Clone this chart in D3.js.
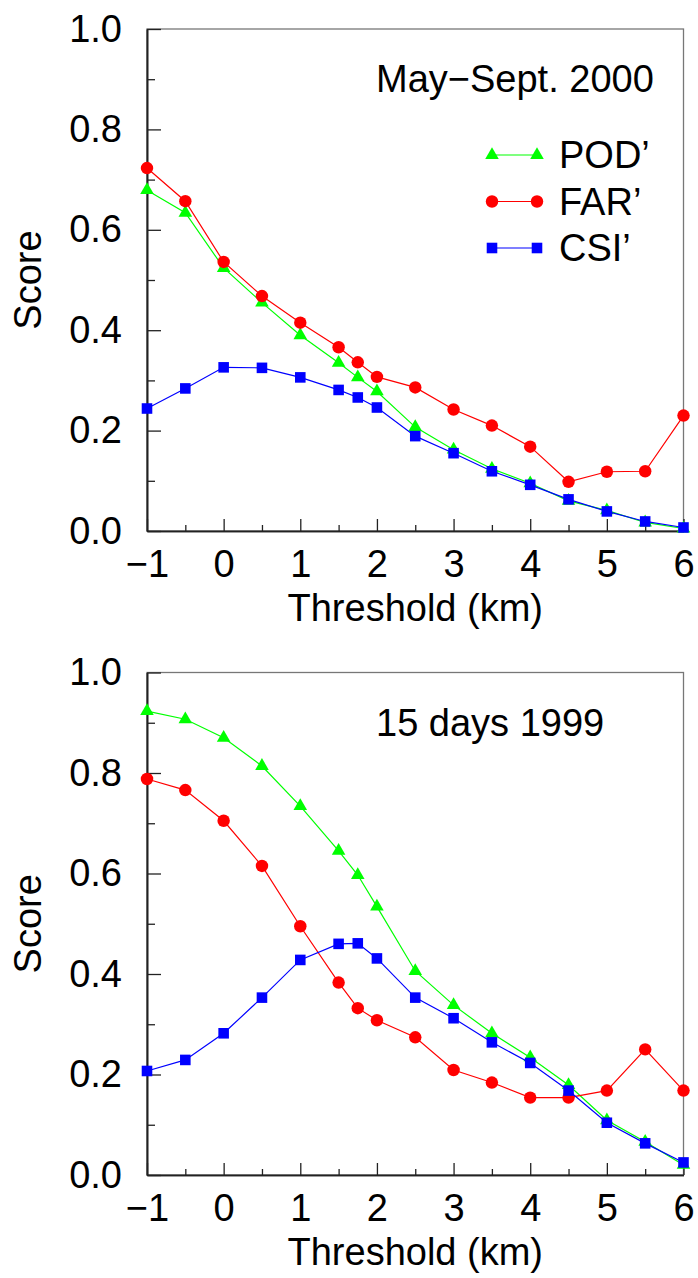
<!DOCTYPE html>
<html>
<head>
<meta charset="utf-8">
<script src="https://cdn.jsdelivr.net/npm/d3@7/dist/d3.min.js"></script>
<style>
    body { margin: 0; background: #fff; }
    text { font-family: "Liberation Sans", Arial, Helvetica, sans-serif; fill: #000; }
</style>
</head>
<body>
<svg id="chart" width="698" height="1278"></svg>
<script>
//Datos
let thresholds = [-1, -0.5, 0, 0.5, 1, 1.5, 1.75, 2, 2.5, 3, 3.5, 4, 4.5, 5, 5.5, 6];

let pod2000 = [0.679, 0.634, 0.524, 0.455, 0.390, 0.335, 0.306, 0.278, 0.207, 0.162, 0.124, 0.095, 0.060, 0.041, 0.017, 0.005];
let far2000 = [0.723, 0.657, 0.536, 0.468, 0.415, 0.366, 0.336, 0.307, 0.286, 0.242, 0.210, 0.168, 0.098, 0.118, 0.119, 0.230];
let csi2000 = [0.244, 0.284, 0.326, 0.325, 0.306, 0.281, 0.266, 0.246, 0.189, 0.155, 0.119, 0.092, 0.063, 0.039, 0.019, 0.007];

let pod1999 = [0.923, 0.907, 0.870, 0.814, 0.734, 0.645, 0.597, 0.534, 0.406, 0.338, 0.282, 0.234, 0.179, 0.109, 0.066, 0.020];
let far1999 = [0.788, 0.766, 0.705, 0.615, 0.495, 0.383, 0.332, 0.308, 0.274, 0.209, 0.184, 0.154, 0.154, 0.168, 0.250, 0.168];
let csi1999 = [0.207, 0.229, 0.282, 0.353, 0.428, 0.460, 0.461, 0.431, 0.353, 0.312, 0.264, 0.223, 0.168, 0.104, 0.063, 0.025];

let xMajor = [-1, 0, 1, 2, 3, 4, 5, 6];
let xMinor = [-0.5, 0.5, 1.5, 2.5, 3.5, 4.5, 5.5];
let yMajor = [0, 0.2, 0.4, 0.6, 0.8, 1.0];
let yMinor = [0.1, 0.3, 0.5, 0.7, 0.9];

let seriesNames = ["POD\u2019", "FAR\u2019", "CSI\u2019"];
let seriesColors = ["#00ff00", "#ff0000", "#0000ff"];
let seriesShapes = [d3.symbolTriangle, d3.symbolCircle, d3.symbolSquare];
let shapeSizes = [80, 122, 112];

//Dimensiones
let margin = {left: 147, right: 683.5};
let fontSize = 38;
let svg = d3.select("#chart");

let x = d3.scaleLinear().domain([-1, 6]).range([margin.left, margin.right]);

drawPanel(29, 531, [pod2000, far2000, csi2000], "May\u2212Sept. 2000", true);
drawPanel(672.5, 1175, [pod1999, far1999, csi1999], "15 days 1999", false);

function drawPanel(top, bottom, series, title, withLegend) {
    let y = d3.scaleLinear().domain([0, 1]).range([bottom, top]);
    let g = svg.append("g");

    //Marco
    g.append("rect")
        .attr("x", margin.left)
        .attr("y", top)
        .attr("width", margin.right - margin.left)
        .attr("height", bottom - top)
        .attr("fill", "none")
        .attr("stroke", "#777")
        .attr("stroke-width", 1.3);

    //Ejes
    let yAxisMinor = d3.axisLeft(y).tickValues(yMinor).tickSizeInner(-8).tickSizeOuter(0).tickFormat("");
    let yAxis = d3.axisLeft(y).tickValues(yMajor).tickSizeInner(-14).tickSizeOuter(0).tickPadding(25).tickFormat(d3.format(".1f"));
    let xAxisMinor = d3.axisBottom(x).tickValues(xMinor).tickSizeInner(-6).tickSizeOuter(0).tickFormat("");
    let xAxis = d3.axisBottom(x).tickValues(xMajor).tickSizeInner(-12).tickSizeOuter(0).tickPadding(19)
        .tickFormat(d => d < 0 ? "\u2212" + Math.abs(d) : d);

    [
        [yAxisMinor, "translate(" + margin.left + ",0)"],
        [yAxis, "translate(" + margin.left + ",0)"],
        [xAxisMinor, "translate(0," + bottom + ")"],
        [xAxis, "translate(0," + bottom + ")"]
    ].forEach(function(a) {
        let ax = g.append("g").attr("transform", a[1]).call(a[0]);
        ax.selectAll("text")
            .style("font-family", '"Liberation Sans", Arial, sans-serif')
            .style("font-size", fontSize + "px")
            .attr("fill", "#000");
        ax.selectAll("line").attr("stroke", "#222").attr("stroke-width", 1.3);
        ax.select(".domain").attr("stroke", "#222").attr("stroke-width", 1.6);
    });

    //Titulos de ejes
    g.append("text")
        .attr("x", (margin.left + margin.right) / 2)
        .attr("y", bottom + 90)
        .attr("text-anchor", "middle")
        .style("font-size", fontSize + "px")
        .text("Threshold (km)");

    g.append("text")
        .attr("transform", "translate(41," + (top + bottom) / 2 + ") rotate(-90)")
        .attr("text-anchor", "middle")
        .style("font-size", fontSize + "px")
        .text("Score");

    g.append("text")
        .attr("x", 376)
        .attr("y", top + 63)
        .style("font-size", fontSize + "px")
        .text(title);

    //Series
    series.forEach(function(values, i) {
        let pts = thresholds.map((t, j) => [t, values[j]]);
        let line = d3.line().x(d => x(d[0])).y(d => y(d[1]));
        g.append("path")
            .datum(pts)
            .attr("d", line)
            .attr("fill", "none")
            .attr("stroke", seriesColors[i])
            .attr("stroke-width", 1.2);
        g.selectAll(".m" + i)
            .data(pts)
            .enter()
            .append("path")
            .attr("class", "m" + i)
            .attr("transform", d => "translate(" + x(d[0]) + "," + y(d[1]) + ")")
            .attr("d", d3.symbol().type(seriesShapes[i]).size(shapeSizes[i]))
            .attr("fill", seriesColors[i]);
    });

    //Leyenda
    if(withLegend) {
        let legendY = [155, 201.5, 248];
        seriesNames.forEach(function(name, i) {
            let lg = g.append("g").attr("transform", "translate(0," + legendY[i] + ")");
            lg.append("line")
                .attr("x1", 492).attr("x2", 537)
                .attr("stroke", seriesColors[i])
                .attr("stroke-width", 1.2);
            [492, 537].forEach(function(px) {
                lg.append("path")
                    .attr("transform", "translate(" + px + ",0)")
                    .attr("d", d3.symbol().type(seriesShapes[i]).size(shapeSizes[i]))
                    .attr("fill", seriesColors[i]);
            });
            lg.append("text")
                .attr("x", 559)
                .attr("y", 13)
                .style("font-size", fontSize + "px")
                .text(name);
        });
    }
}
</script>
</body>
</html>
